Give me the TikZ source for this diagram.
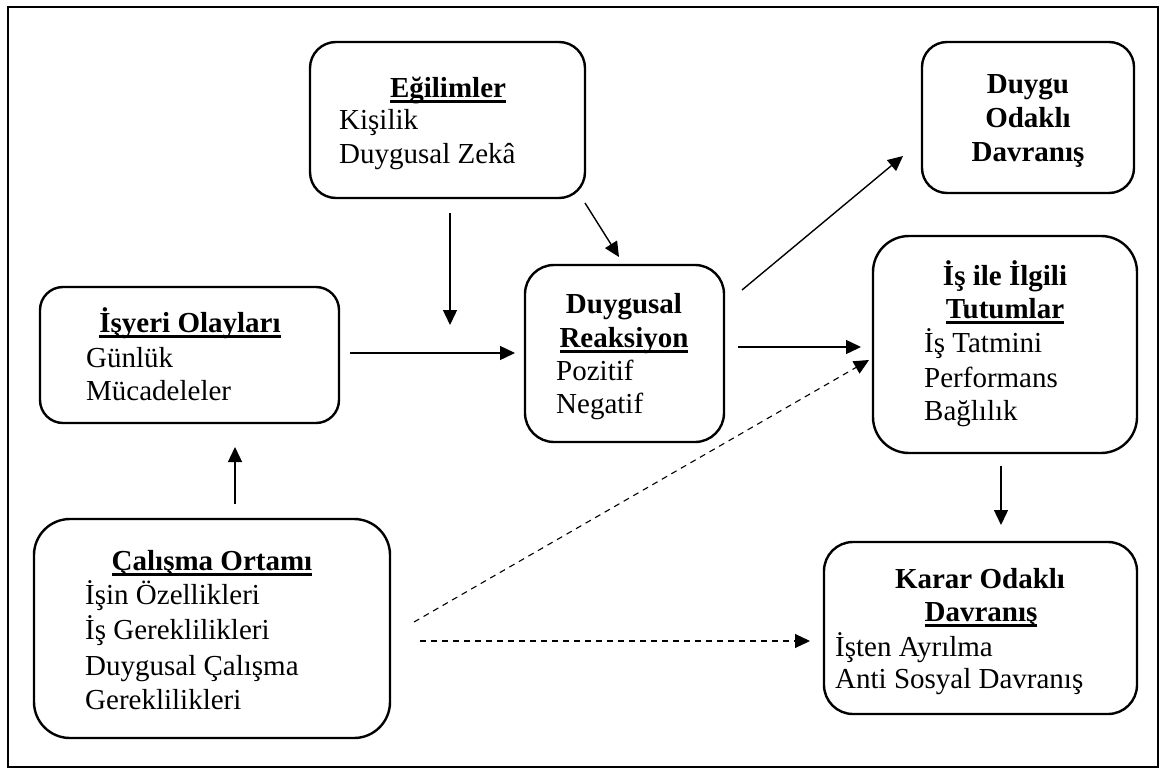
\documentclass[tikz,border=0pt]{standalone}
\usepackage{fontspec}
\setmainfont{Liberation Serif}
\usetikzlibrary{arrows.meta}

% heading underline set at a fixed depth below the baseline
\newsavebox\ulbox
\newcommand\ulword[1]{\sbox\ulbox{#1}\rlap{\rule[-5.5pt]{\wd\ulbox}{2.3pt}}\usebox\ulbox}

\tikzset{
  box/.style={draw, line width=2.4pt, inner sep=0pt},
  txt/.style={anchor=base west, inner sep=0pt, font=\fontsize{29}{35}\selectfont},
  ttl/.style={anchor=base, inner sep=0pt, font=\fontsize{29}{35}\selectfont\bfseries},
  arr/.style={-{Triangle[length=15pt,width=14pt]}, line width=1.4pt},
  dsh/.style={arr, line width=1.1pt, dash pattern=on 6pt off 5pt},
}

\begin{document}
\begin{tikzpicture}[x=1pt, y=-1pt]
\useasboundingbox (0,0) rectangle (1167,776);
\draw[line width=2pt] (8,7) rectangle (1158,767);

% boxes
\node[box, rounded corners=26pt, minimum width=275pt, minimum height=156pt] (egil) at (447.5,120) {};
\node[box, rounded corners=25pt, minimum width=212pt, minimum height=151pt] (duygu) at (1028,117.5) {};
\node[box, rounded corners=23pt, minimum width=299pt, minimum height=136pt] (isyeri) at (189.5,355) {};
\node[box, rounded corners=29pt, minimum width=199pt, minimum height=177pt] (reak) at (624.5,353.5) {};
\node[box, rounded corners=36pt, minimum width=264pt, minimum height=217pt] (tutum) at (1005,344.5) {};
\node[box, rounded corners=36pt, minimum width=356pt, minimum height=219pt] (calis) at (212,628.5) {};
\node[box, rounded corners=29pt, minimum width=313pt, minimum height=172pt] (karar) at (980.5,628) {};

% Eğilimler
\node[ttl] (egilT) at (448,97) {\ulword{Eğilimler}};
\node[txt] (egil1) at (339,129) {Kişilik};
\node[txt] (egil2) at (339,163) {Duygusal Zekâ};

% Duygu Odaklı Davranış
\node[ttl] (duyguT1) at (1028,93) {Duygu};
\node[ttl] (duyguT2) at (1028,127) {Odaklı};
\node[ttl] (duyguT3) at (1028,161) {Davranış};

% İşyeri Olayları
\node[ttl] (isyeriT) at (190,332) {\ulword{İşyeri Olayları}};
\node[txt] (isyeri1) at (86,367) {Günlük};
\node[txt] (isyeri2) at (86,400) {Mücadeleler};

% Duygusal Reaksiyon
\node[ttl] (reakT1) at (624,313) {Duygusal};
\node[ttl] (reakT2) at (624,347) {\ulword{Reaksiyon}};
\node[txt] (reak1) at (556,380) {Pozitif};
\node[txt] (reak2) at (556,413) {Negatif};

% İş ile İlgili Tutumlar
\node[ttl] (tutumT1) at (1005,285) {İş ile İlgili};
\node[ttl] (tutumT2) at (1005,318) {\ulword{Tutumlar}};
\node[txt] (tutum1) at (924,352) {İş Tatmini};
\node[txt] (tutum2) at (924,387) {Performans};
\node[txt] (tutum3) at (924,420) {Bağlılık};

% Çalışma Ortamı
\node[ttl] (calisT) at (212,570) {\ulword{Çalışma Ortamı}};
\node[txt] (calis1) at (85,604) {İşin Özellikleri};
\node[txt] (calis2) at (85,639) {İş Gereklilikleri};
\node[txt] (calis3) at (85,675) {Duygusal Çalışma};
\node[txt] (calis4) at (85,709) {Gereklilikleri};

% Karar Odaklı Davranış
\node[ttl] (kararT1) at (980,588) {Karar Odaklı};
\node[ttl] (kararT2) at (981,621) {\ulword{Davranış}};
\node[txt] (karar1) at (835,656) {İşten Ayrılma};
\node[txt] (karar2) at (835,688) {Anti Sosyal Davranış};

% free-standing connector ends
\coordinate (egilDownA) at (450,213);  \coordinate (egilDownB) at (450,325);
\coordinate (egilDiagA) at (585,203);  \coordinate (egilDiagB) at (619,257);
\coordinate (isyeriOutA) at (350,353); \coordinate (isyeriOutB) at (515,353);
\coordinate (reakUpA) at (742,290);    \coordinate (reakUpB) at (903,156);
\coordinate (reakOutA) at (738,347);   \coordinate (reakOutB) at (861,347);
\coordinate (calisUpA) at (235,504);   \coordinate (calisUpB) at (235,447);
\coordinate (calisDiagA) at (414,622); \coordinate (calisDiagB) at (869,360);
\coordinate (calisOutA) at (420,641);  \coordinate (calisOutB) at (810,641);
\coordinate (tutumDownA) at (1001,466);\coordinate (tutumDownB) at (1001,525);

% connectors
\draw[arr] (egilDownA) -- (egilDownB);
\draw[arr] (egilDiagA) -- (egilDiagB);
\draw[arr] (isyeriOutA) -- (isyeriOutB);
\draw[arr] (reakUpA) -- (reakUpB);
\draw[arr] (reakOutA) -- (reakOutB);
\draw[arr] (calisUpA) -- (calisUpB);
\draw[dsh] (calisDiagA) -- (calisDiagB);
\draw[dsh] (calisOutA) -- (calisOutB);
\draw[arr] (tutumDownA) -- (tutumDownB);
\end{tikzpicture}
\end{document}
